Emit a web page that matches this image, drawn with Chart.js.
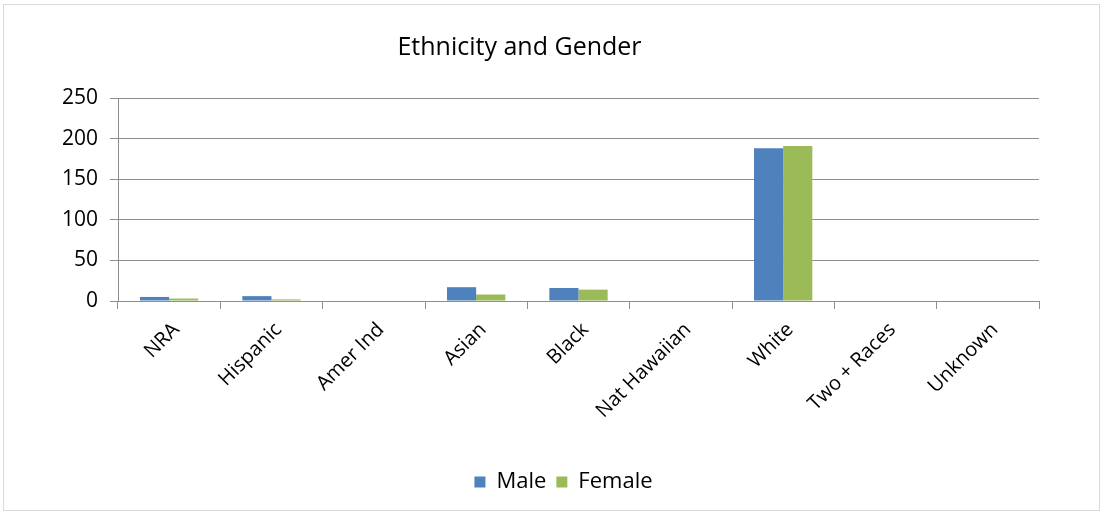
<!DOCTYPE html>
<html>
<head>
<meta charset="utf-8">
<script src="https://cdn.jsdelivr.net/npm/chart.js@4"></script>
<style>
  html, body { margin: 0; padding: 0; background: #fff; }
  #wrap { position: relative; width: 1105px; height: 515px; }
  #frame { position: absolute; left: 3px; top: 4px; width: 1097px; height: 507px; border: 1px solid #d9d9d9; box-sizing: border-box; pointer-events: none; }
  canvas { position: absolute; left: 0; top: 0; }
</style>
</head>
<body>
<div id="wrap">
  <canvas id="c" width="1105" height="515"></canvas>
  <div id="frame"></div>
</div>
<script>
const categories = ["NRA", "Hispanic", "Amer Ind", "Asian", "Black", "Nat Hawaiian", "White", "Two + Races", "Unknown"];
const maleValues = [5, 6, 0, 17, 16, 0, 188, 0, 0];
const femaleValues = [3, 2, 0, 8, 14, 0, 191, 0, 0];
const seriesNames = ["Male", "Female"];
const yTicks = [0, 50, 100, 150, 200, 250];
const chartTitle = "Ethnicity and Gender";

const FONT = "'Open Sans', 'Liberation Sans', sans-serif";
const GRID = "#8e8e8e";

// shift the bottom legend so it is centred like the original
const legendShift = {
  id: "legendShift",
  afterLayout(chart) {
    const lg = chart.legend;
    if (lg) { lg.left += 44; lg.right += 44; }
  }
};

new Chart(document.getElementById("c"), {
  type: "bar",
  data: {
    labels: categories,
    datasets: [
      { label: seriesNames[0], data: maleValues, backgroundColor: "#4F81BD", borderWidth: 0, categoryPercentage: 0.57, barPercentage: 1.0 },
      { label: seriesNames[1], data: femaleValues, backgroundColor: "#9BBB59", borderWidth: 0, categoryPercentage: 0.57, barPercentage: 1.0 }
    ]
  },
  options: {
    responsive: false,
    animation: false,
    devicePixelRatio: 1,
    layout: { padding: { left: 0, right: 66, top: 0, bottom: 12 } },
    plugins: {
      title: {
        display: true,
        text: chartTitle,
        color: "#000",
        font: { family: FONT, size: 25, weight: "normal" },
        padding: { top: 33, bottom: 35 }
      },
      legend: {
        position: "bottom",
        labels: {
          color: "#000",
          font: { family: FONT, size: 22 },
          boxWidth: 11,
          boxHeight: 11,
          padding: 10
        }
      },
      tooltip: { enabled: false }
    },
    scales: {
      x: {
        afterFit: (s) => { s.height = 160; },
        grid: { display: true, drawOnChartArea: false, drawTicks: true, tickLength: 8, color: GRID, offset: true },
        border: { color: GRID, width: 1 },
        ticks: {
          color: "#000",
          font: { family: FONT, size: 20 },
          minRotation: 45,
          maxRotation: 45,
          autoSkip: false,
          padding: 9,
          labelOffset: 7
        }
      },
      y: {
        min: 0,
        max: 250,
        afterFit: (s) => { s.width = 118; },
        afterBuildTicks: (s) => { s.ticks = yTicks.map(v => ({ value: v })); },
        grid: { color: GRID, tickLength: 8, drawTicks: true },
        border: { color: GRID, width: 1 },
        ticks: {
          color: "#000",
          font: { family: FONT, size: 21 },
          stepSize: 50,
          padding: 12
        }
      }
    }
  },
  plugins: [legendShift]
});
</script>
</body>
</html>
